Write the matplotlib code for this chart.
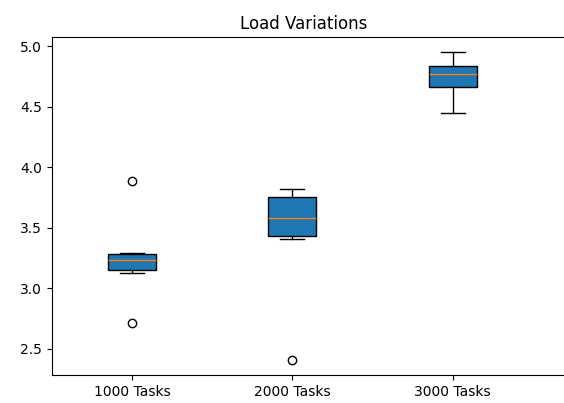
import matplotlib
matplotlib.use("Agg")
import matplotlib.pyplot as plt

# valores
etiquetas = ["1000 Tasks", "2000 Tasks", "3000 Tasks"]
tarefas_1000 = [2.71, 3.13, 3.17, 3.23, 3.27, 3.29, 3.89]
tarefas_2000 = [2.41, 3.41, 3.49, 3.67, 3.783, 3.82]
tarefas_3000 = [4.45, 4.665, 4.77, 4.835, 4.95]

fig = plt.figure(figsize=(5.64, 4.03), dpi=100)
W, H = 564.0, 403.0
ax = fig.add_axes([52 / W, (H - 375) / H, (613 - 52) / W, (375 - 37) / H])

ax.boxplot([tarefas_1000, tarefas_2000, tarefas_3000], patch_artist=True)
ax.set_xticks([1, 2, 3])
ax.set_xticklabels(etiquetas)
ax.set_xlim(0.5, 4.0)
ax.spines["right"].set_visible(False)
ax.set_title("Load Variations", x=(304 - 52) / (613 - 52))

fig.savefig("out.png", dpi=100)
